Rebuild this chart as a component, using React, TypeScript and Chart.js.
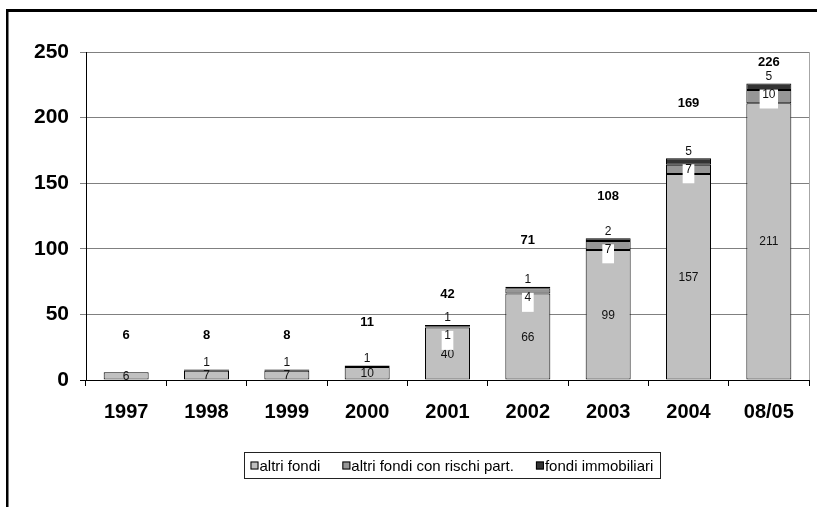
import React, { useEffect, useRef } from "react";
import { Chart, registerables } from "chart.js";

Chart.register(...registerables);

const FONT = "'Liberation Sans', Arial, sans-serif";

// Fund counts per year, split by type
const categories = ["1997", "1998", "1999", "2000", "2001", "2002", "2003", "2004", "08/05"];
const altriFondi = [6, 7, 7, 10, 40, 66, 99, 157, 211];
const rischiPart = [0, 0, 0, 0, 1, 4, 7, 7, 10];
const immobiliari = [0, 1, 1, 1, 1, 1, 2, 5, 5];
// Height (in axis units) at which each year's total is written
const totalLabelAt = [34, 34, 34, 44, 65.5, 106.6, 140, 211, 242];

const seriesNames = ["altri fondi", "altri fondi con rischi part.", "fondi immobiliari"];
const seriesColors = ["#c0c0c0", "#969696", "#333333"];

const frame = {
  id: "frame",
  beforeDraw(chart: any) {
    const { ctx } = chart;
    ctx.save();
    ctx.fillStyle = "#ffffff";
    ctx.fillRect(0, 0, chart.width, chart.height);
    ctx.fillStyle = "#000000";
    ctx.fillRect(7, 9, chart.width - 7, 3);
    ctx.fillRect(6, 9, 2.5, chart.height - 9);
    ctx.restore();
  },
  afterDraw(chart: any) {
    const { ctx, chartArea } = chart;
    ctx.save();
    // right edge of the plot area
    ctx.strokeStyle = "#a6a6a6";
    ctx.lineWidth = 1;
    ctx.beginPath();
    ctx.moveTo(Math.round(chartArea.right) + 0.5, chartArea.top);
    ctx.lineTo(Math.round(chartArea.right) + 0.5, chartArea.bottom);
    ctx.stroke();

    // legend
    const boxL = 244.5, boxT = 452.5, boxW = 416, boxH = 26;
    ctx.strokeStyle = "#222";
    ctx.strokeRect(boxL, boxT, boxW, boxH);
    ctx.font = `15px ${FONT}`;
    ctx.textBaseline = "middle";
    ctx.textAlign = "left";
    let x = 250.5;
    const cy = boxT + boxH / 2;
    seriesNames.forEach((name, i) => {
      ctx.fillStyle = seriesColors[i];
      ctx.fillRect(x, cy - 4, 8, 8);
      ctx.strokeStyle = "#000";
      ctx.strokeRect(x + 0.5, cy - 4 + 0.5, 7, 7);
      ctx.fillStyle = "#000";
      ctx.fillText(name, x + 9, cy + 1);
      x += 9 + ctx.measureText(name).width + 22;
    });
    ctx.restore();
  },
};

const valueLabels = {
  id: "valueLabels",
  afterDatasetsDraw(chart: any) {
    const { ctx } = chart;
    const yScale = chart.scales.y;
    const meta = chart.getDatasetMeta(0);
    ctx.save();
    ctx.textAlign = "center";
    ctx.textBaseline = "middle";
    categories.forEach((_, i) => {
      const x = meta.data[i].x;
      const base = altriFondi[i];
      const mid = rischiPart[i];
      const top = immobiliari[i];
      const total = base + mid + top;
      const yTop = yScale.getPixelForValue(total);

      ctx.font = `12px ${FONT}`;
      ctx.fillStyle = "#111";
      ctx.fillText(String(base), x, yScale.getPixelForValue(base / 2) + 0.5);

      if (mid > 0) {
        const t = String(mid);
        const c = yTop + 11;
        const w = ctx.measureText(t).width + 5;
        ctx.fillStyle = "#ffffff";
        ctx.fillRect(x - w / 2, c - 5, w, 19);
        ctx.fillStyle = "#111";
        ctx.fillText(t, x, c);
      }
      if (top > 0) {
        ctx.fillStyle = "#111";
        ctx.fillText(String(top), x, yTop - 7);
      }

      ctx.font = `bold 13px ${FONT}`;
      ctx.fillStyle = "#000";
      ctx.fillText(String(total), x, yScale.getPixelForValue(totalLabelAt[i]));
    });
    ctx.restore();
  },
};

export default function App() {
  const canvasRef = useRef<HTMLCanvasElement>(null);

  useEffect(() => {
    const canvas = canvasRef.current;
    if (!canvas) return;
    const series = [altriFondi, rischiPart, immobiliari];
    const chart = new Chart(canvas, {
      type: "bar",
      data: {
        labels: categories,
        datasets: series.map((values, i) => ({
          label: seriesNames[i],
          data: values,
          backgroundColor: seriesColors[i],
          borderColor: "#000000",
          borderWidth: (c: any) => (c.raw === 0 ? 0 : 1),
          borderSkipped: false,
          barPercentage: 0.56,
          categoryPercentage: 1,
        })),
      },
      options: {
        responsive: false,
        animation: false,
        devicePixelRatio: 1,
        layout: { padding: { top: 52, right: 8, bottom: 67, left: 0 } },
        plugins: {
          legend: { display: false },
          tooltip: { enabled: false },
        },
        scales: {
          x: {
            stacked: true,
            afterFit: (s: any) => {
              s.height = 60;
            },
            grid: {
              offset: true,
              drawOnChartArea: false,
              drawTicks: true,
              tickLength: 6,
              color: "#000000",
            },
            border: { display: true, color: "#000000", width: 1 },
            ticks: {
              color: "#000000",
              padding: 14,
              font: { family: FONT, size: 20, weight: "bold" },
            },
          },
          y: {
            stacked: true,
            min: 0,
            max: 250,
            afterFit: (s: any) => {
              s.width = 86;
            },
            grid: {
              color: (c: any) => (c.tick && c.tick.value === 0 ? "#000000" : "#808080"),
              tickLength: 6,
            },
            border: { display: true, color: "#000000", width: 1 },
            ticks: {
              stepSize: 50,
              color: "#000000",
              padding: 11,
              font: { family: FONT, size: 21, weight: "bold" },
            },
          },
        },
      },
      plugins: [frame, valueLabels],
    });
    return () => chart.destroy();
  }, []);

  return (
    <div style={{ position: "fixed", left: 0, top: 0, width: 817, height: 507 }}>
      <canvas ref={canvasRef} width={817} height={507} style={{ display: "block" }} />
    </div>
  );
}
